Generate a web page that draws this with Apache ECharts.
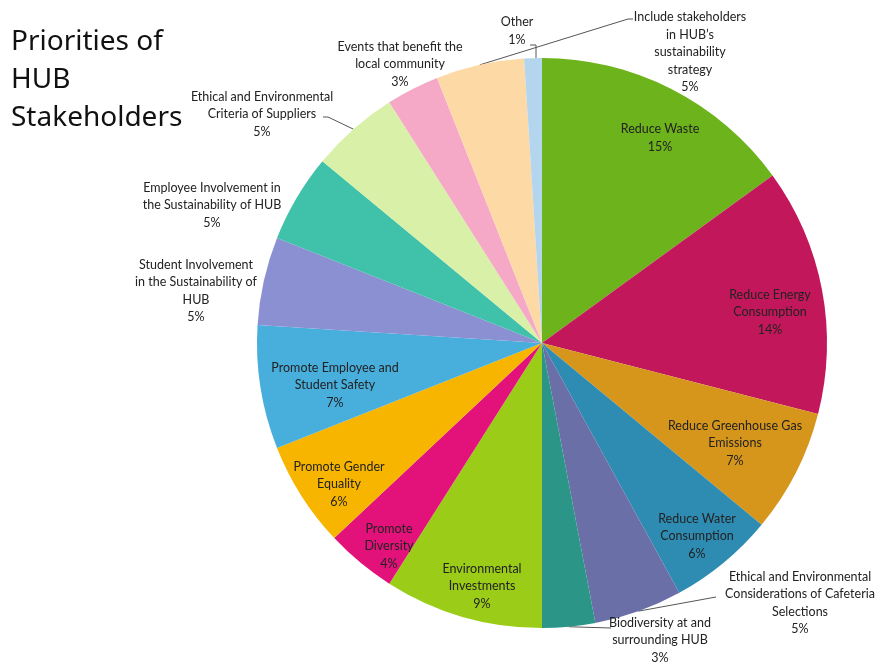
<!DOCTYPE html>
<html><head><meta charset="utf-8">
<script src="https://cdn.jsdelivr.net/npm/echarts@6/dist/echarts.min.js"></script>
<style>html,body{margin:0;padding:0;background:#fff}#c{width:882px;height:667px}</style>
</head><body><div id="c"></div>
<script>
// ---- data ----
const categories = [
  "Reduce Waste",
  "Reduce Energy\nConsumption",
  "Reduce Greenhouse Gas\nEmissions",
  "Reduce Water\nConsumption",
  "Ethical and Environmental\nConsiderations of Cafeteria\nSelections",
  "Biodiversity at and\nsurrounding HUB",
  "Environmental\nInvestments",
  "Promote\nDiversity",
  "Promote Gender\nEquality",
  "Promote Employee and\nStudent Safety",
  "Student Involvement\nin the Sustainability of\nHUB",
  "Employee Involvement in\nthe Sustainability of HUB",
  "Ethical and Environmental\nCriteria of Suppliers",
  "Events that benefit the\nlocal community",
  "Include stakeholders\nin HUB\u2019s\nsustainability\nstrategy",
  "Other"
];
const values = [15, 14, 7, 6, 5, 3, 9, 4, 6, 7, 5, 5, 5, 3, 5, 1];

// ---- styling / layout (not data) ----
const colors = ["#6db31b","#c2185b","#d6961b","#2e8bb2","#6a6fa8","#2b9688","#9bcc17","#e2127a",
                "#f7b500","#48aedc","#8a90d2","#3fc2a9","#d9f0a9","#f5a9c7","#fdd9a6","#b3d6ee"];
const CX = 542, CY = 343, R = 285;
// label centre positions (text placement only)
const labelPos = [
  [660,138],[770,312],[735,443],[697,536],[800,603],[660,640],[482,586],[389,546],
  [339,484],[335,385],[196,291],[212,205],[262,114],[400,64],[690,52],[517,31]
];
const outside = [false,false,false,false,true,true,false,false,false,false,true,true,true,true,true,true];
// leader line end points (label side) for slices that have one
const leaderEnd = {4:[[716,597]], 5:[[611,628]], 12:[[328,117],[323,117]], 14:[[628,19],[633,19]], 15:[[536,45],[530,45]]};

const total = values.reduce((a,b)=>a+b,0);
const midAngle = [];
{ let acc = 0; values.forEach(v=>{ midAngle.push((acc + v/2)/total*2*Math.PI); acc += v; }); }
function edgePoint(i){ return [CX + R*Math.sin(midAngle[i]), CY - R*Math.cos(midAngle[i])]; }

const chart = echarts.init(document.getElementById('c'), null, {renderer:'canvas'});
const data = categories.map((n,i)=>({
  name:n, value:values[i],
  itemStyle:{color:colors[i]},
  label:{position: outside[i] ? 'outside' : 'inside'},
  labelLine:{show: !!leaderEnd[i], lineStyle:{color:'#555', width:1}}
}));
chart.setOption({
  animation:false,
  title:{
    text:"Priorities of\nHUB\nStakeholders",
    left:6, top:18,
    textStyle:{fontFamily:'Noto Sans', fontSize:28, fontWeight:'normal', color:'#111', lineHeight:38}
  },
  series:[{
    type:'pie',
    center:[CX,CY],
    radius:[0,R],
    startAngle:90,
    clockwise:true,
    avoidLabelOverlap:false,
    data:data,
    label:{
      show:true,
      formatter:p=>p.name+"\n"+p.value+"%",
      fontFamily:'Lato', fontSize:12.5, color:'#222', lineHeight:17.5, align:'center'
    },
    labelLine:{length:10,length2:10},
    labelLayout:function(p){
      const i = p.dataIndex;
      const pos = labelPos[i];
      const o = {x:pos[0], y:pos[1], align:'center', verticalAlign:'middle'};
      if (leaderEnd[i]) {
        const s = edgePoint(i);
        if (i === 15) s[0] = leaderEnd[i][0][0];
        o.labelLinePoints = [s].concat(leaderEnd[i]);
      }
      return o;
    },
    emphasis:{disabled:true}
  }]
});
</script></body></html>
